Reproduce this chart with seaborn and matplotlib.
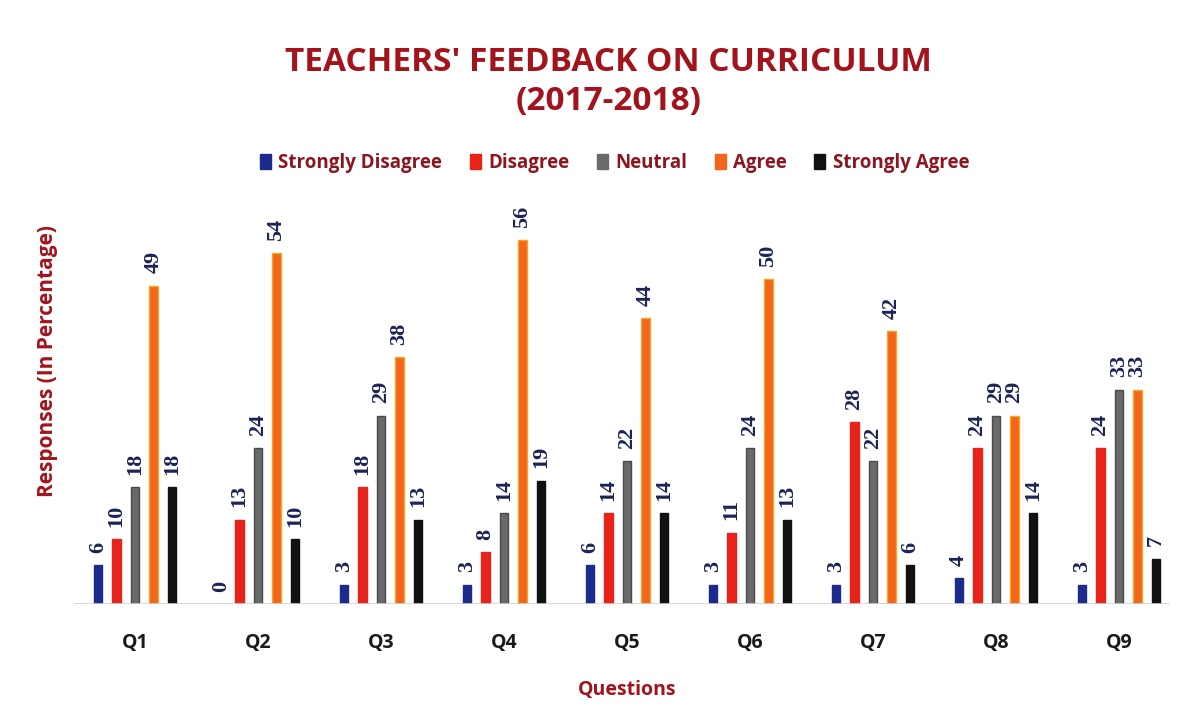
import matplotlib
matplotlib.use("Agg")
import matplotlib.pyplot as plt
import seaborn as sns
import pandas as pd
from matplotlib.patches import Patch

questions = ["Q1", "Q2", "Q3", "Q4", "Q5", "Q6", "Q7", "Q8", "Q9"]
categories = ["Strongly Disagree", "Disagree", "Neutral", "Agree", "Strongly Agree"]
strongly_disagree = [6, 0, 3, 3, 6, 3, 3, 4, 3]
disagree = [10, 13, 18, 8, 14, 11, 28, 24, 24]
neutral = [18, 24, 29, 14, 22, 24, 22, 29, 33]
agree = [49, 54, 38, 56, 44, 50, 42, 29, 33]
strongly_agree = [18, 10, 13, 19, 14, 13, 6, 14, 7]

series = [strongly_disagree, disagree, neutral, agree, strongly_agree]
colors = ["#1c2a8c", "#e8231a", "#6a6a6a", "#f2661c", "#111111"]
edge_colors = ["#1c2a8c", "#e8231a", "#4a4a4a", "#f5a623", "#111111"]

rows = []
for cat, vals in zip(categories, series):
    for q, v in zip(questions, vals):
        rows.append({"Question": q, "Response": cat, "Value": v})
df = pd.DataFrame(rows)

sns.set_theme(style="white")
plt.rcParams["font.family"] = ["Open Sans", "DejaVu Sans"]

fig = plt.figure(figsize=(11.98, 7.22), dpi=100)
ax = fig.add_axes([0.0614, 0.1634, 0.924, 0.540])

sns.barplot(data=df, x="Question", y="Value", hue="Response", order=questions,
            hue_order=categories, palette=colors, width=0.75, ax=ax,
            legend=False, errorbar=None, saturation=1)

label_color = "#1b2455"
for i, container in enumerate(ax.containers):
    for patch in container:
        w = patch.get_width()
        cx = patch.get_x() + w / 2
        nw = w * 0.45
        patch.set_x(cx - nw / 2)
        patch.set_width(nw)
        patch.set_edgecolor(edge_colors[i])
        patch.set_linewidth(1.0)
    ax.bar_label(container, labels=[str(v) for v in series[i]], rotation=90,
                 padding=9, fontsize=16, fontweight="bold",
                 family=["Liberation Serif", "DejaVu Serif"], color=label_color)

ax.set_xlim(-0.5, 8.5)
ax.set_ylim(0, 60)
ax.set_yticks([])
ax.axhline(0, color="#d0d0d0", lw=1.2, xmin=0.0, xmax=0.99)
for s in ax.spines.values():
    s.set_visible(False)
ax.tick_params(axis="x", length=0, pad=21, labelsize=14)
for t in ax.get_xticklabels():
    t.set_fontweight("bold")
    t.set_color("#1a1a1a")

title_color = "#a3131c"
ax.set_xlabel("Questions", fontsize=14, fontweight="bold", color=title_color, labelpad=19)
ax.set_ylabel("")
fig.text(0.040, 0.500, "Responses (In Percentage)", rotation=90, ha="center", va="center",
         fontsize=15, fontweight="bold", color=title_color)

fig.text(0.508, 0.913, "TEACHERS' FEEDBACK ON CURRICULUM", ha="center", va="center",
         fontsize=24, fontweight="bold", color=title_color)
fig.text(0.508, 0.860, "(2017-2018)", ha="center", va="center",
         fontsize=24, fontweight="bold", color=title_color)

handles = [Patch(facecolor=c, edgecolor=c) for c in colors]
fig.legend(handles, categories, loc="center", bbox_to_anchor=(0.513, 0.774), ncol=5,
           frameon=False, handlelength=0.6, handleheight=0.9, handletextpad=0.4,
           columnspacing=1.45, prop={"size": 13.5, "weight": "bold"},
           labelcolor="#8a1620")

fig.savefig("out.png", dpi=100)
